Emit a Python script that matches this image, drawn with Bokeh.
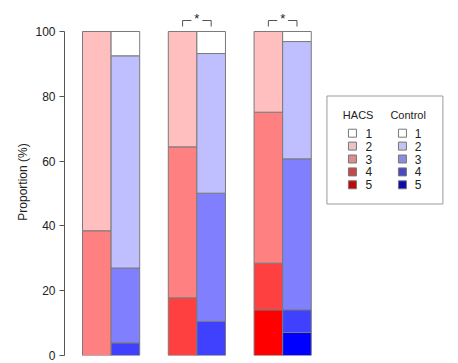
import numpy as np
from bokeh.plotting import figure
from bokeh.models import ColumnDataSource, FixedTicker, Range1d
from bokeh.core.properties import value
from bokeh.embed import file_html
from bokeh.resources import INLINE

# ---- data ----
groups = ["Group 1", "Group 2", "Group 3"]
levels = ["1", "2", "3", "4", "5"]
# proportions (%) per level 1..5
hacs_g1 = [0.0, 61.5, 38.5, 0.0, 0.0]
hacs_g2 = [0.0, 35.6, 46.6, 17.8, 0.0]
hacs_g3 = [0.0, 24.9, 46.6, 14.4, 14.1]
control_g1 = [7.5, 65.5, 23.1, 3.9, 0.0]
control_g2 = [6.8, 43.1, 39.6, 10.5, 0.0]
control_g3 = [3.1, 36.2, 46.6, 7.0, 7.1]
significant = [False, True, True]
y_ticks = [0, 20, 40, 60, 80, 100]

hacs_colors = ["#FFFFFF", "#FFBFBF", "#FF8080", "#FF4040", "#FF0000"]
control_colors = ["#FFFFFF", "#BFBFFF", "#8080FF", "#4040FF", "#0000FF"]
hacs_legend_colors = ["#FFFFFF", "#E8C4C4", "#DC8C8C", "#C84848", "#C00A0A"]
control_legend_colors = ["#FFFFFF", "#C4C4EC", "#8C8CDC", "#4848C8", "#0A0AB0"]

FONT = value("Liberation Sans")

group_gap = 3.0
bar_w = 1.0

# ---- figure ----
W, H = 458, 363
p = figure(width=W, height=H, output_backend="svg", toolbar_location=None,
           x_axis_type=None,
           x_range=Range1d(-0.63, 12.87), y_range=Range1d(0, 107.1),
           min_border_left=64, min_border_right=8, min_border_top=8,
           min_border_bottom=8)
p.outline_line_color = None
p.grid.visible = False
p.background_fill_color = "white"
p.border_fill_color = "white"

ya = p.yaxis[0]
ya.ticker = FixedTicker(ticks=y_ticks)
ya.bounds = (0, 100)
ya.axis_label = "Proportion (%)"
ya.axis_label_text_font = "Liberation Sans"
ya.axis_label_text_font_size = "12px"
ya.axis_label_text_font_style = "normal"
ya.axis_label_text_color = "#222222"
ya.axis_label_standoff = 2
ya.major_label_text_font = "Liberation Sans"
ya.major_label_text_font_size = "12px"
ya.major_label_text_color = "#222222"
ya.major_label_standoff = 4
ya.major_tick_out = 5
ya.major_tick_in = 0
ya.minor_tick_line_color = None
ya.axis_line_color = "#555555"
ya.major_tick_line_color = "#555555"

# ---- stacked bars ----
hacs_all = [hacs_g1, hacs_g2, hacs_g3]
control_all = [control_g1, control_g2, control_g3]
L, R, B, T, C = [], [], [], [], []
for gi in range(len(groups)):
    for si, (vals, cols) in enumerate([(hacs_all[gi], hacs_colors),
                                       (control_all[gi], control_colors)]):
        left = gi * group_gap + si * bar_w
        bottom = 0.0
        for li in range(len(levels) - 1, -1, -1):
            v = vals[li]
            if v <= 0:
                continue
            L.append(left); R.append(left + bar_w)
            B.append(bottom); T.append(bottom + v)
            C.append(cols[li])
            bottom += v
src = ColumnDataSource(dict(left=L, right=R, bottom=B, top=T, color=C))
p.quad(left="left", right="right", bottom="bottom", top="top", source=src,
       fill_color="color", line_color="#7A7A7A", line_width=1)

# ---- helpers for decorations (page pixel -> data) ----
def px2x(px):
    return (px - 82) / 28.6

def py2y(py):
    return (355 - py) / 3.24

# ---- significance brackets ----
br_y = py2y(20)
br_tick = py2y(26)
gap = 0.19
xs, ys, sx, sy = [], [], [], []
for gi, sig in enumerate(significant):
    if not sig:
        continue
    x0 = gi * group_gap + bar_w / 2
    x1 = gi * group_gap + bar_w * 1.5
    xm = (x0 + x1) / 2
    xs += [[x0, x0, xm - gap], [xm + gap, x1, x1]]
    ys += [[br_tick, br_y, br_y], [br_y, br_y, br_tick]]
    sx.append(xm); sy.append(py2y(18))
p.multi_line(xs, ys, line_color="#555555", line_width=1)
p.text(sx, sy, text=["*"] * len(sx), text_font=FONT, text_font_size="13px",
       text_align="center", text_baseline="middle", text_color="#222222")

# ---- legend ----
p.quad(left=[px2x(326.5)], right=[px2x(442.5)], bottom=[py2y(203.5)],
       top=[py2y(95.5)], fill_color="white", line_color="#9A9A9A", line_width=1)
p.text([px2x(357.7), px2x(407.7)], [py2y(114), py2y(114)], text=["HACS", "Control"],
       text_font=FONT, text_font_size="11px", text_align="center",
       text_baseline="middle", text_color="#222222")
row_y = [py2y(132.7 + 12.9 * i) for i in range(len(levels))]
p.scatter([px2x(352)] * 5, row_y, marker="square", size=8,
          fill_color=hacs_legend_colors, line_color="#777777", line_width=1)
p.scatter([px2x(402)] * 5, row_y, marker="square", size=8,
          fill_color=control_legend_colors, line_color="#777777", line_width=1)
p.text([px2x(368.3)] * 5 + [px2x(417.7)] * 5, row_y + row_y, text=levels + levels,
       text_font=FONT, text_font_size="12px", text_align="center",
       text_baseline="middle", text_color="#222222")

open("out.html", "w").write(file_html(p, INLINE))
